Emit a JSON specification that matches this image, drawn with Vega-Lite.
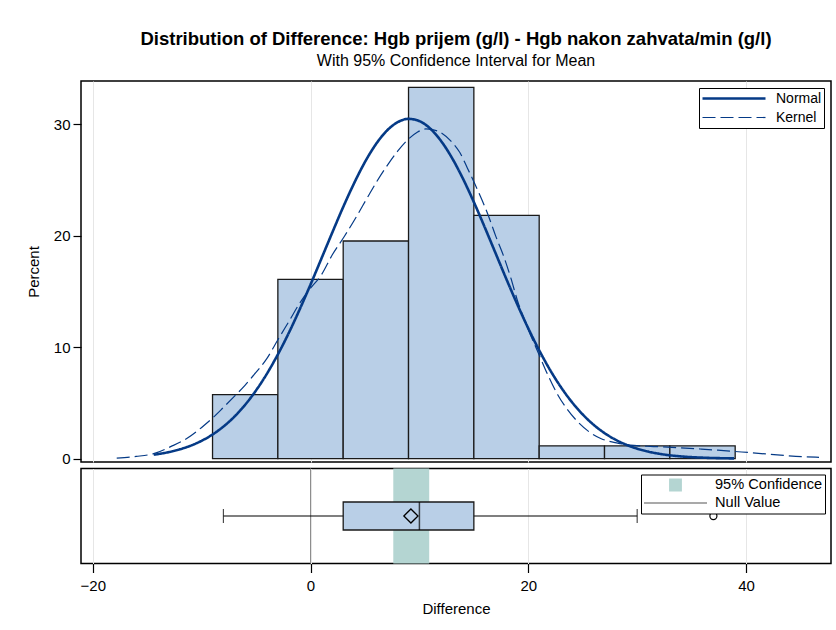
{
  "$schema": "https://vega.github.io/schema/vega-lite/v6.json",
  "padding": {"left": 25, "top": 29, "right": 0, "bottom": 0},
  "title": {
    "text": "Distribution of Difference: Hgb prijem (g/l) - Hgb nakon zahvata/min (g/l)",
    "subtitle": "With 95% Confidence Interval for Mean",
    "anchor": "middle",
    "frame": "group",
    "fontSize": 18.5,
    "fontWeight": "bold",
    "font": "Liberation Sans",
    "subtitleFont": "Liberation Sans",
    "subtitleFontSize": 16,
    "subtitlePadding": 5,
    "offset": 11,
    "color": "black",
    "subtitleColor": "black"
  },
  "resolve": {"legend": {"color": "independent", "strokeDash": "independent", "strokeWidth": "independent"}},
  "datasets": {
    "bars": [
      {"lo": -9, "hi": -3, "pct": 5.75},
      {"lo": -3, "hi": 3, "pct": 16.09},
      {"lo": 3, "hi": 9, "pct": 19.54},
      {"lo": 9, "hi": 15, "pct": 33.33},
      {"lo": 15, "hi": 21, "pct": 21.84},
      {"lo": 21, "hi": 27, "pct": 1.15},
      {"lo": 27, "hi": 33, "pct": 1.15},
      {"lo": 33, "hi": 39, "pct": 1.15}
    ],
    "curves": [
      {"curve": "Normal", "x": -14.4, "pct": 0.354},
      {"curve": "Normal", "x": -13, "pct": 0.592},
      {"curve": "Normal", "x": -12, "pct": 0.839},
      {"curve": "Normal", "x": -11, "pct": 1.17},
      {"curve": "Normal", "x": -10, "pct": 1.606},
      {"curve": "Normal", "x": -9, "pct": 2.168},
      {"curve": "Normal", "x": -8, "pct": 2.881},
      {"curve": "Normal", "x": -7, "pct": 3.765},
      {"curve": "Normal", "x": -6, "pct": 4.843},
      {"curve": "Normal", "x": -5, "pct": 6.131},
      {"curve": "Normal", "x": -4, "pct": 7.634},
      {"curve": "Normal", "x": -3, "pct": 9.357},
      {"curve": "Normal", "x": -2, "pct": 11.28},
      {"curve": "Normal", "x": -1, "pct": 13.39},
      {"curve": "Normal", "x": 0, "pct": 15.63},
      {"curve": "Normal", "x": 1, "pct": 17.96},
      {"curve": "Normal", "x": 2, "pct": 20.3},
      {"curve": "Normal", "x": 3, "pct": 22.59},
      {"curve": "Normal", "x": 4, "pct": 24.72},
      {"curve": "Normal", "x": 5, "pct": 26.63},
      {"curve": "Normal", "x": 6, "pct": 28.22},
      {"curve": "Normal", "x": 7, "pct": 29.43},
      {"curve": "Normal", "x": 8, "pct": 30.2},
      {"curve": "Normal", "x": 9, "pct": 30.5},
      {"curve": "Normal", "x": 10, "pct": 30.3},
      {"curve": "Normal", "x": 11, "pct": 29.62},
      {"curve": "Normal", "x": 12, "pct": 28.5},
      {"curve": "Normal", "x": 13, "pct": 26.98},
      {"curve": "Normal", "x": 14, "pct": 25.13},
      {"curve": "Normal", "x": 15, "pct": 23.03},
      {"curve": "Normal", "x": 16, "pct": 20.77},
      {"curve": "Normal", "x": 17, "pct": 18.43},
      {"curve": "Normal", "x": 18, "pct": 16.09},
      {"curve": "Normal", "x": 19, "pct": 13.83},
      {"curve": "Normal", "x": 20, "pct": 11.69},
      {"curve": "Normal", "x": 21, "pct": 9.726},
      {"curve": "Normal", "x": 22, "pct": 7.961},
      {"curve": "Normal", "x": 23, "pct": 6.414},
      {"curve": "Normal", "x": 24, "pct": 5.084},
      {"curve": "Normal", "x": 25, "pct": 3.965},
      {"curve": "Normal", "x": 26, "pct": 3.042},
      {"curve": "Normal", "x": 27, "pct": 2.297},
      {"curve": "Normal", "x": 28, "pct": 1.707},
      {"curve": "Normal", "x": 29, "pct": 1.248},
      {"curve": "Normal", "x": 30, "pct": 0.898},
      {"curve": "Normal", "x": 31, "pct": 0.636},
      {"curve": "Normal", "x": 32, "pct": 0.443},
      {"curve": "Normal", "x": 33, "pct": 0.304},
      {"curve": "Normal", "x": 34, "pct": 0.205},
      {"curve": "Normal", "x": 35, "pct": 0.136},
      {"curve": "Normal", "x": 36, "pct": 0.089},
      {"curve": "Normal", "x": 37, "pct": 0.057},
      {"curve": "Normal", "x": 38, "pct": 0.036},
      {"curve": "Normal", "x": 38.9, "pct": 0.024},
      {"curve": "Kernel", "x": -17.8, "pct": 0.05},
      {"curve": "Kernel", "x": -16, "pct": 0.2},
      {"curve": "Kernel", "x": -14.4, "pct": 0.45},
      {"curve": "Kernel", "x": -12.8, "pct": 1.1},
      {"curve": "Kernel", "x": -11.3, "pct": 1.85},
      {"curve": "Kernel", "x": -10, "pct": 2.8},
      {"curve": "Kernel", "x": -9, "pct": 3.64},
      {"curve": "Kernel", "x": -8, "pct": 4.6},
      {"curve": "Kernel", "x": -7, "pct": 5.59},
      {"curve": "Kernel", "x": -6, "pct": 6.6},
      {"curve": "Kernel", "x": -5.2, "pct": 7.53},
      {"curve": "Kernel", "x": -4, "pct": 9.0},
      {"curve": "Kernel", "x": -3, "pct": 10.67},
      {"curve": "Kernel", "x": -2, "pct": 12.3},
      {"curve": "Kernel", "x": -0.9, "pct": 14.1},
      {"curve": "Kernel", "x": 0, "pct": 15.3},
      {"curve": "Kernel", "x": 1, "pct": 16.5},
      {"curve": "Kernel", "x": 2, "pct": 18.3},
      {"curve": "Kernel", "x": 3.1, "pct": 19.94},
      {"curve": "Kernel", "x": 4.2, "pct": 21.7},
      {"curve": "Kernel", "x": 5.2, "pct": 23.4},
      {"curve": "Kernel", "x": 6.1, "pct": 24.9},
      {"curve": "Kernel", "x": 7.1, "pct": 26.4},
      {"curve": "Kernel", "x": 8, "pct": 27.6},
      {"curve": "Kernel", "x": 8.9, "pct": 28.6},
      {"curve": "Kernel", "x": 9.8, "pct": 29.3},
      {"curve": "Kernel", "x": 10.6, "pct": 29.6},
      {"curve": "Kernel", "x": 11.7, "pct": 29.4},
      {"curve": "Kernel", "x": 12.9, "pct": 28.5},
      {"curve": "Kernel", "x": 13.7, "pct": 27.5},
      {"curve": "Kernel", "x": 14.4, "pct": 26.1},
      {"curve": "Kernel", "x": 15.3, "pct": 24.2},
      {"curve": "Kernel", "x": 16.3, "pct": 21.9},
      {"curve": "Kernel", "x": 17, "pct": 20.0},
      {"curve": "Kernel", "x": 17.8, "pct": 18.0},
      {"curve": "Kernel", "x": 18.4, "pct": 16.2},
      {"curve": "Kernel", "x": 19, "pct": 14.2},
      {"curve": "Kernel", "x": 20, "pct": 11.6},
      {"curve": "Kernel", "x": 21, "pct": 9.3},
      {"curve": "Kernel", "x": 21.8, "pct": 7.5},
      {"curve": "Kernel", "x": 22.7, "pct": 5.74},
      {"curve": "Kernel", "x": 23.6, "pct": 4.4},
      {"curve": "Kernel", "x": 24.5, "pct": 3.35},
      {"curve": "Kernel", "x": 25.6, "pct": 2.4},
      {"curve": "Kernel", "x": 26.7, "pct": 1.79},
      {"curve": "Kernel", "x": 28.2, "pct": 1.4},
      {"curve": "Kernel", "x": 29.7, "pct": 1.19},
      {"curve": "Kernel", "x": 31.2, "pct": 1.1},
      {"curve": "Kernel", "x": 32.8, "pct": 1.04},
      {"curve": "Kernel", "x": 34.4, "pct": 0.95},
      {"curve": "Kernel", "x": 35.9, "pct": 0.86},
      {"curve": "Kernel", "x": 37.4, "pct": 0.76},
      {"curve": "Kernel", "x": 38.9, "pct": 0.65},
      {"curve": "Kernel", "x": 40.5, "pct": 0.53},
      {"curve": "Kernel", "x": 42, "pct": 0.41},
      {"curve": "Kernel", "x": 43.6, "pct": 0.28},
      {"curve": "Kernel", "x": 45.1, "pct": 0.18},
      {"curve": "Kernel", "x": 46.7, "pct": 0.12}
    ],
    "box": [
      {"var": "Difference", "min": -8, "q1": 3, "median": 10, "q3": 15, "max": 30, "mean": 9.22}
    ],
    "ends": [
      {"var": "Difference", "end": -8},
      {"var": "Difference", "end": 30}
    ],
    "outliers": [
      {"var": "Difference", "value": 37}
    ],
    "ci": [
      {"lo": 7.6, "hi": 10.9, "leg": "95% Confidence"}
    ],
    "nullv": [
      {"v": 0, "leg": "Null Value"}
    ]
  },
  "bounds": "flush",
  "spacing": 6.5,
  "vconcat": [
    {
      "width": 750,
      "height": 381,
      "layer": [
        {
          "data": {"name": "bars"},
          "mark": {"type": "rect", "fill": "#b9cfe7", "stroke": "#1a1a1a", "strokeWidth": 1.3},
          "encoding": {
            "x": {
              "field": "lo", "type": "quantitative",
              "scale": {"domain": [-21.08, 47.8], "nice": false, "zero": false},
              "axis": {"values": [-20, 0, 20, 40], "labels": false, "ticks": false, "domain": false, "title": null, "grid": true, "gridColor": "#e6e6e6", "gridWidth": 1}
            },
            "x2": {"field": "hi"},
            "y": {
              "field": "pct", "type": "quantitative",
              "scale": {"domain": [-0.3, 33.9], "nice": false, "zero": false},
              "axis": {"values": [0, 10, 20, 30], "grid": false, "domain": false, "title": "Percent", "tickSize": 8, "tickWidth": 1.2, "labelPadding": 3, "titlePadding": 12}
            },
            "y2": {"datum": 0}
          }
        },
        {
          "data": {"name": "curves"},
          "mark": {"type": "line", "color": "#053a86", "interpolate": "monotone"},
          "encoding": {
            "x": {"field": "x", "type": "quantitative"},
            "y": {"field": "pct", "type": "quantitative"},
            "detail": {"field": "curve"},
            "strokeDash": {
              "field": "curve", "type": "nominal",
              "scale": {"domain": ["Normal", "Kernel"], "range": [[1, 0], [13, 5]]},
              "legend": {
                "title": null, "orient": "top-right", "offset": 7,
                "strokeColor": "black", "fillColor": "white", "padding": 2,
                "symbolType": "stroke", "symbolSize": 3969, "symbolStrokeColor": "#053a86",
                "clipHeight": 17, "rowPadding": 2, "labelOffset": 9,
                "labelFontSize": 14, "labelColor": "black"
              }
            },
            "strokeWidth": {
              "field": "curve", "type": "nominal",
              "scale": {"domain": ["Normal", "Kernel"], "range": [2.6, 1.2]},
              "legend": {
                "title": null, "orient": "top-right", "offset": 7,
                "strokeColor": "black", "fillColor": "white", "padding": 2,
                "symbolType": "stroke", "symbolSize": 3969, "symbolStrokeColor": "#053a86",
                "clipHeight": 17, "rowPadding": 2, "labelOffset": 9,
                "labelFontSize": 14, "labelColor": "black"
              }
            }
          }
        }
      ]
    },
    {
      "width": 750,
      "height": 95,
      "layer": [
        {
          "data": {"name": "ci"},
          "mark": {"type": "rect"},
          "encoding": {
            "x": {
              "field": "lo", "type": "quantitative",
              "scale": {"domain": [-21.08, 47.8], "nice": false, "zero": false},
              "axis": {"values": [-20, 0, 20, 40], "grid": true, "gridColor": "#e6e6e6", "domain": false, "title": "Difference", "tickSize": 9, "tickWidth": 1.2, "labelPadding": 6, "titlePadding": 8}
            },
            "x2": {"field": "hi"},
            "color": {
              "field": "leg", "type": "nominal",
              "scale": {"domain": ["95% Confidence", "Null Value"], "range": ["#b4d5d2", "#8c8c8c"]},
              "legend": {
                "title": null, "orient": "top-right", "offset": 6,
                "strokeColor": "black", "fillColor": "white", "padding": 2,
                "symbolType": "stroke", "symbolSize": 3969, "symbolStrokeWidth": 1.5, "symbolStrokeColor": "black",
                "clipHeight": 17, "rowPadding": 1, "labelOffset": 7,
                "labelFontSize": 14.6, "labelColor": "black",
                "encode": {
                  "symbols": {
                    "update": {
                      "shape": {"signal": "(datum.value === 'Null Value' ? 'stroke' : 'M-0.18,-0.18H0.18V0.18H-0.18Z')"},
                      "fill": {"signal": "(datum.value === 'Null Value' ? 'transparent' : '#b4d5d2')"},
                      "stroke": {"signal": "(datum.value === 'Null Value' ? '#8c8c8c' : '#000000')"},
                      "strokeWidth": {"value": 1.5},
                      "strokeOpacity": {"value": 1},
                      "fillOpacity": {"value": 1},
                      "opacity": {"value": 1}
                    }
                  }
                }
              }
            }
          }
        },
        {
          "data": {"name": "nullv"},
          "mark": {"type": "rule", "strokeWidth": 1},
          "encoding": {
            "x": {"field": "v", "type": "quantitative"},
            "color": {"field": "leg", "type": "nominal", "legend": null}
          }
        },
        {
          "data": {"name": "box"},
          "mark": {"type": "rule", "color": "black", "strokeWidth": 1.2},
          "encoding": {
            "x": {"field": "min", "type": "quantitative"},
            "x2": {"field": "max"},
            "y": {"field": "var", "type": "nominal", "scale": {"type": "point", "padding": 0.5}, "axis": null}
          }
        },
        {
          "data": {"name": "ends"},
          "mark": {"type": "tick", "color": "black", "size": 14, "thickness": 1.2},
          "encoding": {
            "x": {"field": "end", "type": "quantitative"},
            "y": {"field": "var", "type": "nominal"}
          }
        },
        {
          "data": {"name": "box"},
          "mark": {"type": "bar", "size": 28, "fill": "#b9cfe7", "stroke": "#1a1a1a", "strokeWidth": 1.3},
          "encoding": {
            "x": {"field": "q1", "type": "quantitative"},
            "x2": {"field": "q3"},
            "y": {"field": "var", "type": "nominal"}
          }
        },
        {
          "data": {"name": "box"},
          "mark": {"type": "tick", "color": "black", "size": 28, "thickness": 1.5},
          "encoding": {
            "x": {"field": "median", "type": "quantitative"},
            "y": {"field": "var", "type": "nominal"}
          }
        },
        {
          "data": {"name": "box"},
          "mark": {"type": "point", "shape": "diamond", "size": 200, "filled": false, "stroke": "black", "strokeWidth": 1.3, "opacity": 1},
          "encoding": {
            "x": {"field": "mean", "type": "quantitative"},
            "y": {"field": "var", "type": "nominal"}
          }
        },
        {
          "data": {"name": "outliers"},
          "mark": {"type": "point", "shape": "circle", "size": 50, "filled": false, "stroke": "black", "strokeWidth": 1.2, "opacity": 1},
          "encoding": {
            "x": {"field": "value", "type": "quantitative"},
            "y": {"field": "var", "type": "nominal"}
          }
        }
      ]
    }
  ],
  "config": {
    "font": "Liberation Sans",
    "view": {"stroke": "black", "strokeWidth": 1.5},
    "axis": {
      "labelFont": "Liberation Sans", "titleFont": "Liberation Sans",
      "labelFontSize": 15, "titleFontSize": 15, "titleFontWeight": "normal",
      "labelColor": "black", "titleColor": "black", "tickColor": "black"
    },
    "legend": {"labelFont": "Liberation Sans"}
  }
}
